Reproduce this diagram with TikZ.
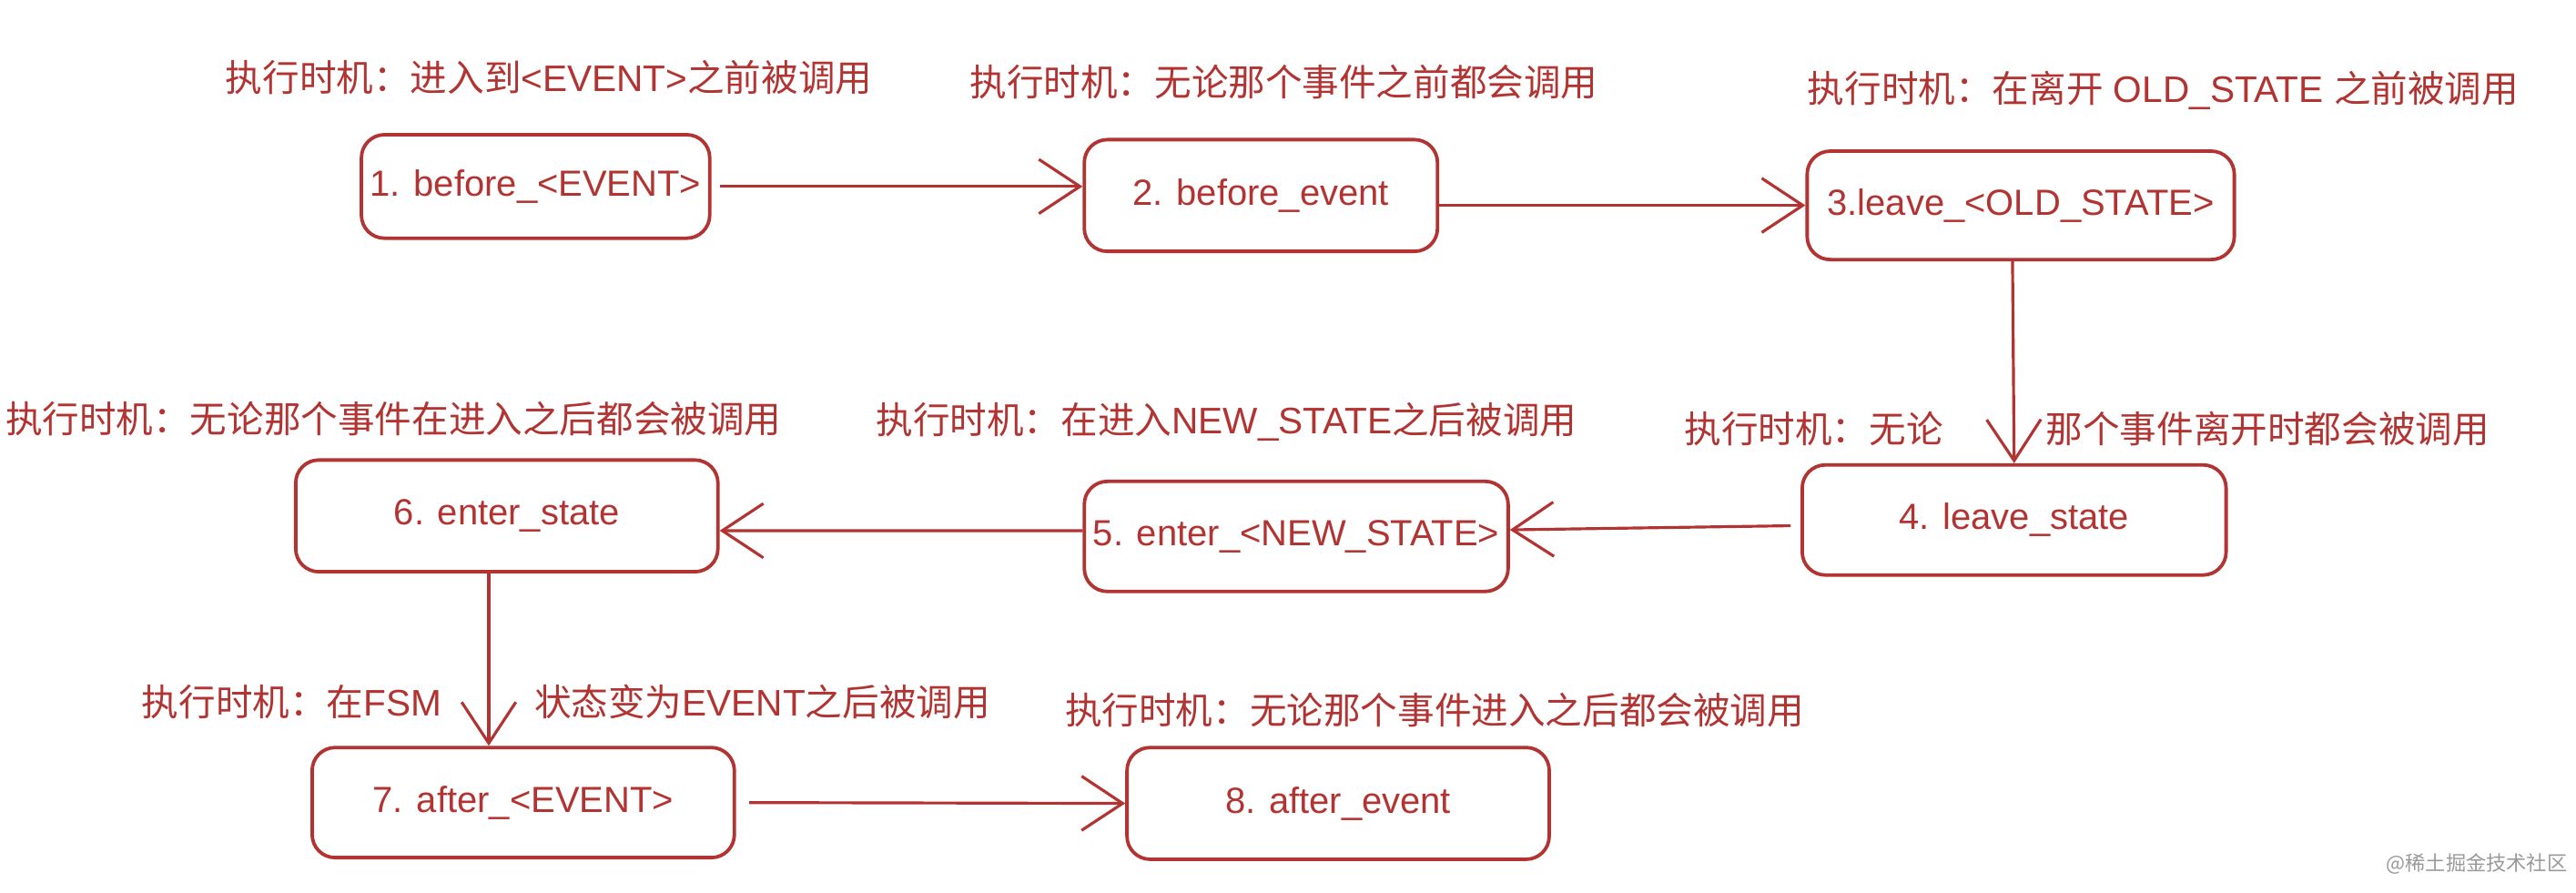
\documentclass[tikz,border=0pt]{standalone}
\usepackage{fontspec}
\setmainfont{Liberation Sans}
\newfontfamily\cjk{Noto Sans CJK SC}
\usetikzlibrary{arrows.meta}
\definecolor{ink}{RGB}{178,52,50}
\tikzset{
  box/.style={draw=ink, line width=1.2pt, rounded corners=0.28cm, text=ink,
    font=\fontsize{12.6}{15}\selectfont, inner sep=0pt},
  lbl/.style={anchor=west, text=ink, inner sep=0pt, font=\fontsize{12.8}{15}\selectfont},
  arr/.style={draw=ink, line width=1pt, -{Straight Barb[length=0.5cm,width=0.66cm,line width=1pt]}},
}
\begin{document}
\begin{tikzpicture}[x=0.02cm,y=-0.02cm]
\useasboundingbox (0,0) rectangle (1568,543);
% boxes
\node[box, minimum width=212*0.02cm, minimum height=63*0.02cm] (B1) at (326,113.5) {1. before\_<EVENT>};
\node[box, minimum width=215*0.02cm, minimum height=68*0.02cm] (B2) at (767.5,119) {2. before\_event};
\node[box, minimum width=260*0.02cm, minimum height=66*0.02cm] (B3) at (1230,125) {3.leave\_<OLD\_STATE>};
\node[box, minimum width=258*0.02cm, minimum height=67*0.02cm] (B4) at (1226,316.5) {4. leave\_state};
\node[box, minimum width=258*0.02cm, minimum height=67*0.02cm] (B5) at (789,326.5) {5. enter\_<NEW\_STATE>};
\node[box, minimum width=257*0.02cm, minimum height=68*0.02cm] (B6) at (308.5,314) {6. enter\_state};
\node[box, minimum width=257*0.02cm, minimum height=67*0.02cm] (B7) at (318.5,488.5) {7. after\_<EVENT>};
\node[box, minimum width=257*0.02cm, minimum height=68*0.02cm] (B8) at (814.5,489) {8. after\_event};
% labels
\node[lbl] (L1) at (137,47) {{\cjk 执行时机：进入到}<EVENT>{\cjk 之前被调用}};
\node[lbl] (L2) at (590,50) {{\cjk 执行时机：无论那个事件之前都会调用}};
\node[lbl] (L3) at (1100,55) {{\cjk 执行时机：在离开} OLD\_STATE {\cjk 之前被调用}};
\node[lbl] (L4a) at (1025,261) {{\cjk 执行时机：无论}};
\node[lbl] (L4b) at (1245,261) {{\cjk 那个事件离开时都会被调用}};
\node[lbl] (L5) at (533,257) {{\cjk 执行时机：在进入}NEW\_STATE{\cjk 之后被调用}};
\node[lbl] (L6) at (3,255) {{\cjk 执行时机：无论那个事件在进入之后都会被调用}};
\node[lbl] (L7a) at (86,427) {{\cjk 执行时机：在}FSM};
\node[lbl] (L7b) at (325,427) {{\cjk 状态变为}EVENT{\cjk 之后被调用}};
\node[lbl] (L8) at (648,432) {{\cjk 执行时机：无论那个事件进入之后都会被调用}};
\node[anchor=east, text=black!40, inner sep=0pt, font=\fontsize{7}{8}\selectfont] (wm) at (1563,526) {{\cjk @稀土掘金技术社区}};
% connectors
\draw[arr] ([xshift=0.1cm]B1.east) -- (B1.east -| B2.west);
\draw[arr] (B2.east |- B3.west) -- (B3.west);
\draw[arr] ([xshift=-0.1cm]B3.south) -- (B4.north);
\draw[arr] ([xshift=-0.12cm,yshift=-0.07cm]B4.west) -- ([yshift=0.08cm]B5.east);
\draw[arr] ([yshift=0.07cm]B5.west) -- ([yshift=-0.18cm]B6.east);
\draw[arr] ([xshift=-0.22cm]B6.south) -- ([xshift=-0.22cm]B6.south |- B7.north);
\draw[arr] ([xshift=0.16cm]B7.east) -- (B8.west);
\end{tikzpicture}
\end{document}
